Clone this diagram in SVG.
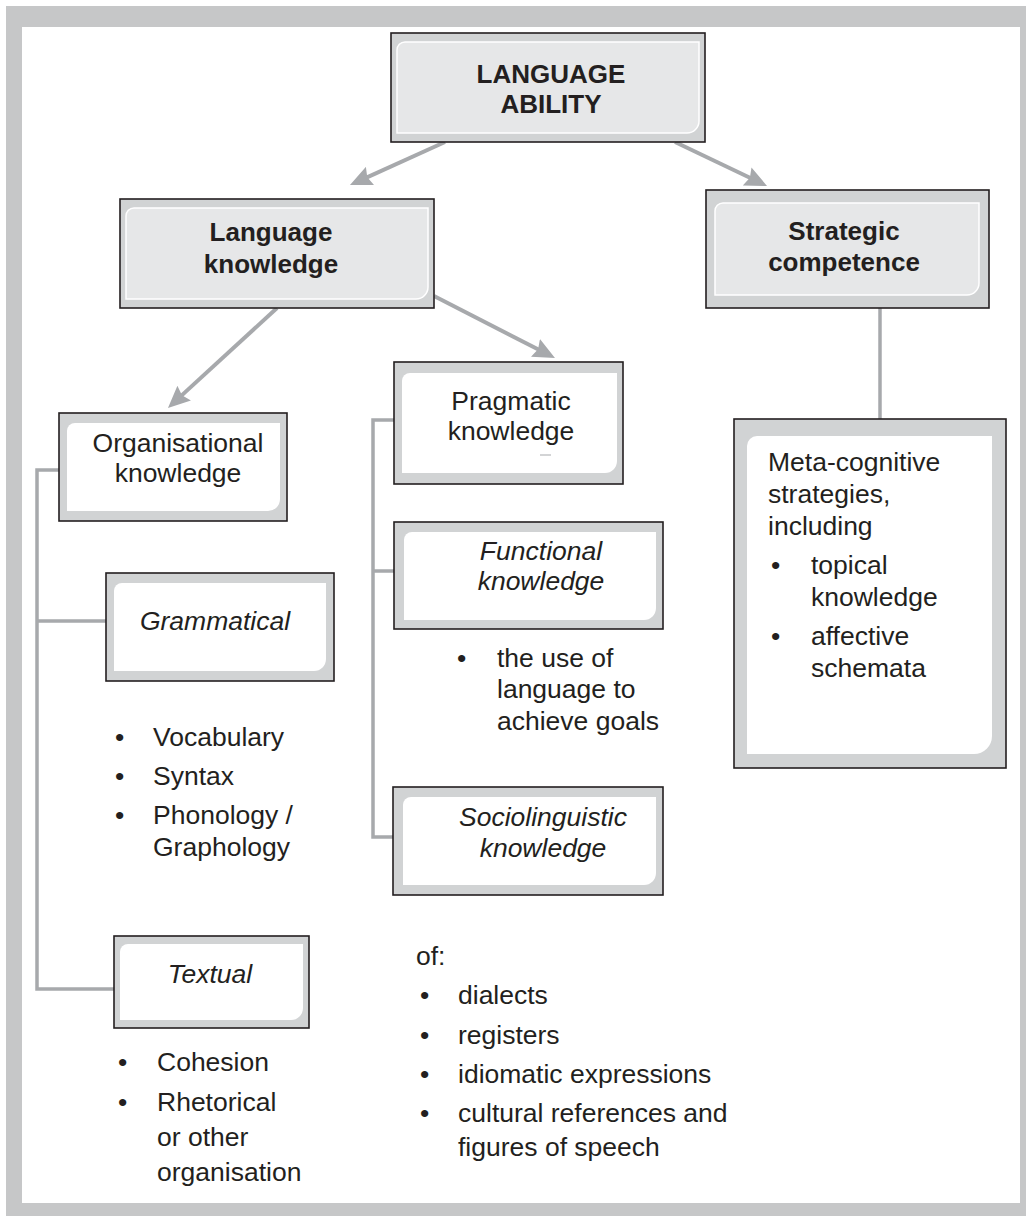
<svg xmlns="http://www.w3.org/2000/svg" width="1026" height="1216" viewBox="0 0 1026 1216">
<defs>
<style>
.outer{fill:#d1d3d4;stroke:#231f20;stroke-width:1.6}
.inw{fill:#ffffff}
.inh{fill:#e6e7e8;stroke:#ffffff;stroke-width:1.5}
text{font-family:"Liberation Sans",Arial,sans-serif;font-size:26.5px;fill:#231f20}
.b{font-weight:bold;font-size:26px}
.i{font-style:italic}
.c{text-anchor:middle}
.con{fill:none;stroke:#a7a9ac;stroke-width:3.5}
.arr{fill:none;stroke:#a7a9ac;stroke-width:4;marker-end:url(#ah)}
</style>
<marker id="ah" markerUnits="userSpaceOnUse" viewBox="0 0 22 20" refX="10" refY="10" markerWidth="22" markerHeight="20" orient="auto">
<path d="M0,0 L22,10 L0,20 L3,10 Z" fill="#a7a9ac"/>
</marker>
</defs>
<rect x="0" y="0" width="1026" height="1216" fill="#ffffff"/>
<rect x="6" y="6" width="1020" height="1210" fill="#c6c7c8"/>
<rect x="22" y="27" width="998" height="1176" fill="#ffffff"/>

<g id="connectors">
<line class="arr" x1="445" y1="142" x2="360.9" y2="180.1"/>
<line class="arr" x1="675" y1="142" x2="756.2" y2="180.8"/>
<line class="arr" x1="277" y1="308" x2="176.8" y2="399.9"/>
<line class="arr" x1="434" y1="296" x2="544.3" y2="352.5"/>
<line class="con" x1="880" y1="308" x2="880" y2="419"/>
<path class="con" d="M59,470 H37 V989 H114 M37,621 H106"/>
<path class="con" d="M394,420 H373 V837 H393 M373,571 H394"/>
</g>

<g id="language-ability">
<rect class="outer" x="391" y="33" width="314" height="109"/>
<path class="inh" d="M397,50 A8,8 0 0 1 405,42 H699 V121 A12,12 0 0 1 687,133 H397 Z"/>
<text class="b c" x="551" y="83">LANGUAGE</text>
<text class="b c" x="551" y="113">ABILITY</text>
</g>

<g id="language-knowledge">
<rect class="outer" x="120" y="199" width="314" height="109"/>
<path class="inh" d="M126,216 A8,8 0 0 1 134,208 H428 V287 A12,12 0 0 1 416,299 H126 Z"/>
<text class="b c" x="271" y="241">Language</text>
<text class="b c" x="271" y="273">knowledge</text>
</g>

<g id="strategic-competence">
<rect class="outer" x="706" y="190" width="283" height="118"/>
<path class="inh" d="M715,211 A8,8 0 0 1 723,203 H979 V283 A12,12 0 0 1 967,295 H715 Z"/>
<text class="b c" x="844" y="240">Strategic</text>
<text class="b c" x="844" y="271">competence</text>
</g>

<g id="organisational-knowledge">
<rect class="outer" x="59" y="413" width="228" height="108"/>
<path class="inw" d="M67,431 A8,8 0 0 1 75,423 H280 V499 A12,12 0 0 1 268,511 H67 Z"/>
<text class="c" x="178" y="452">Organisational</text>
<text class="c" x="178" y="482">knowledge</text>
</g>

<g id="grammatical">
<rect class="outer" x="106" y="573" width="228" height="108"/>
<path class="inw" d="M114,591 A8,8 0 0 1 122,583 H326 V659 A12,12 0 0 1 314,671 H114 Z"/>
<text class="i c" x="215" y="630">Grammatical</text>
</g>

<g id="grammatical-list">
<text x="115" y="746">•</text><text x="153" y="746">Vocabulary</text>
<text x="115" y="785">•</text><text x="153" y="785">Syntax</text>
<text x="115" y="824">•</text><text x="153" y="824">Phonology /</text>
<text x="153" y="856">Graphology</text>
</g>

<g id="textual">
<rect class="outer" x="114" y="936" width="195" height="92"/>
<path class="inw" d="M120,952 A8,8 0 0 1 128,944 H303 V1008 A12,12 0 0 1 291,1020 H120 Z"/>
<text class="i c" x="210" y="983">Textual</text>
</g>

<g id="textual-list">
<text x="118" y="1071">•</text><text x="157" y="1071">Cohesion</text>
<text x="118" y="1111">•</text><text x="157" y="1111">Rhetorical</text>
<text x="157" y="1146">or other</text>
<text x="157" y="1181">organisation</text>
</g>

<g id="pragmatic-knowledge">
<rect class="outer" x="394" y="362" width="229" height="122"/>
<path class="inw" d="M402,381 A8,8 0 0 1 410,373 H617 V461 A12,12 0 0 1 605,473 H402 Z"/>
<text class="c" x="511" y="410">Pragmatic</text>
<text class="c" x="511" y="440">knowledge</text>
<line x1="540" y1="455" x2="551" y2="455" stroke="#a7a9ac" stroke-width="1"/>
</g>

<g id="functional-knowledge">
<rect class="outer" x="394" y="522" width="269" height="107"/>
<path class="inw" d="M404,540 A8,8 0 0 1 412,532 H656 V608 A12,12 0 0 1 644,620 H404 Z"/>
<text class="i c" x="541" y="560">Functional</text>
<text class="i c" x="541" y="590">knowledge</text>
</g>

<g id="functional-list">
<text x="457" y="667">•</text><text x="497" y="667">the use of</text>
<text x="497" y="698">language to</text>
<text x="497" y="730">achieve goals</text>
</g>

<g id="sociolinguistic-knowledge">
<rect class="outer" x="393" y="787" width="270" height="108"/>
<path class="inw" d="M403,805 A8,8 0 0 1 411,797 H656 V873 A12,12 0 0 1 644,885 H403 Z"/>
<text class="i c" x="543" y="826">Sociolinguistic</text>
<text class="i c" x="543" y="857">knowledge</text>
</g>

<g id="sociolinguistic-list">
<text x="416" y="965">of:</text>
<text x="420" y="1004">•</text><text x="458" y="1004">dialects</text>
<text x="420" y="1044">•</text><text x="458" y="1044">registers</text>
<text x="420" y="1083">•</text><text x="458" y="1083">idiomatic expressions</text>
<text x="420" y="1122">•</text><text x="458" y="1122">cultural references and</text>
<text x="458" y="1156">figures of speech</text>
</g>

<g id="meta-cognitive">
<rect class="outer" x="734" y="419" width="272" height="349"/>
<path class="inw" d="M747,446 A10,10 0 0 1 757,436 H992 V736 A18,18 0 0 1 974,754 H747 Z"/>
<text x="768" y="471">Meta-cognitive</text>
<text x="768" y="503">strategies,</text>
<text x="768" y="535">including</text>
<text x="771" y="574">•</text><text x="811" y="574">topical</text>
<text x="811" y="606">knowledge</text>
<text x="771" y="645">•</text><text x="811" y="645">affective</text>
<text x="811" y="677">schemata</text>
</g>
</svg>
